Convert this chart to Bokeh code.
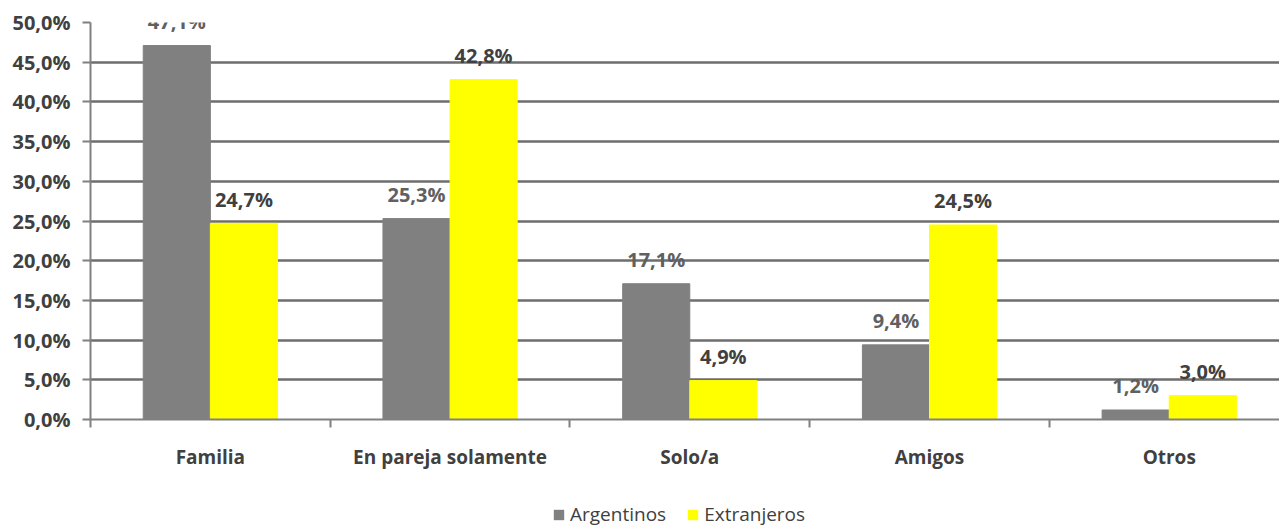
from bokeh.plotting import figure
from bokeh.layouts import column
from bokeh.models import ColumnDataSource, Range1d, FixedTicker, LabelSet, Legend, LegendItem
from bokeh.core.properties import value
from bokeh.embed import file_html
from bokeh.resources import INLINE

categories = ["Familia", "En pareja solamente", "Solo/a", "Amigos", "Otros"]
argentinos = [47.1, 25.3, 17.1, 9.4, 1.2]
extranjeros = [24.7, 42.8, 4.9, 24.5, 3.0]
series_names = ["Argentinos", "Extranjeros"]
y_ticks = [0, 5, 10, 15, 20, 25, 30, 35, 40, 45, 50]

FONT = value("Open Sans")
GRAY = "#808080"
YELLOW = "#FFFF00"
TEXT = "#404040"


def pct(v):
    return f"{v:.1f}%".replace(".", ",")


idx = list(range(len(categories)))
bar_w = 0.28
x_arg = [i - bar_w / 2 for i in idx]
x_ext = [i + bar_w / 2 for i in idx]

src_arg = ColumnDataSource(dict(x=x_arg, top=argentinos, t=[pct(v) for v in argentinos]))
src_ext = ColumnDataSource(dict(x=x_ext, top=extranjeros, t=[pct(v) for v in extranjeros]))

p = figure(width=1279, height=472, output_backend="svg", toolbar_location=None,
           x_range=Range1d(-0.5, 4.46), y_range=Range1d(0, 50),
           min_border_left=90, min_border_right=0, min_border_top=22, min_border_bottom=52)
p.outline_line_color = None
p.background_fill_color = "white"

r1 = p.vbar(x="x", top="top", bottom=0, width=bar_w, source=src_arg,
            fill_color=GRAY, line_color=GRAY, line_width=1)
r2 = p.vbar(x="x", top="top", bottom=0, width=bar_w, source=src_ext,
            fill_color=YELLOW, line_color=YELLOW, line_width=1)

# Y axis
p.yaxis.ticker = FixedTicker(ticks=y_ticks)
p.yaxis.major_label_overrides = {t: pct(t) for t in y_ticks}
p.yaxis.major_label_text_font = "Open Sans"
p.yaxis.major_label_text_font_style = "bold"
p.yaxis.major_label_text_font_size = "20px"
p.yaxis.major_label_text_color = TEXT
p.yaxis.axis_line_color = GRAY
p.yaxis.axis_line_width = 2
p.yaxis.major_tick_line_color = GRAY
p.yaxis.major_tick_line_width = 2
p.yaxis.major_tick_out = 8
p.yaxis.major_tick_in = 0
p.yaxis.minor_tick_line_color = None
p.yaxis.major_label_standoff = 12

# X axis: labels at category centres, ticks at boundaries
p.xaxis.ticker = FixedTicker(ticks=idx, minor_ticks=[i - 0.5 for i in idx] + [len(idx) - 0.5])
p.xaxis.major_label_overrides = {i: c for i, c in enumerate(categories)}
p.xaxis.major_label_text_font = "Open Sans"
p.xaxis.major_label_text_font_style = "bold"
p.xaxis.major_label_text_font_size = "19px"
p.xaxis.major_label_text_color = TEXT
p.xaxis.major_tick_line_color = None
p.xaxis.major_tick_out = 0
p.xaxis.major_tick_in = 0
p.xaxis.minor_tick_line_color = GRAY
p.xaxis.minor_tick_line_width = 2
p.xaxis.minor_tick_out = 8
p.xaxis.minor_tick_in = 0
p.xaxis.axis_line_color = GRAY
p.xaxis.axis_line_width = 2
p.xaxis.major_label_standoff = 16

p.xgrid.grid_line_color = None
p.ygrid.grid_line_color = "#6e6e6e"
p.ygrid.grid_line_width = 2.5

lab1 = LabelSet(x="x", y="top", text="t", source=src_arg, text_align="center",
                text_baseline="middle", y_offset=24, text_font=FONT,
                text_font_style="bold", text_font_size="20px", text_color="#606060")
lab2 = LabelSet(x="x", y="top", text="t", source=src_ext, text_align="center",
                text_baseline="middle", y_offset=24, text_font=FONT,
                text_font_style="bold", text_font_size="20px", text_color=TEXT)
p.add_layout(lab1)
p.add_layout(lab2)

# Legend strip underneath (its bars lie outside its y-range, so only the legend shows)
q = figure(width=1279, height=56, output_backend="svg", toolbar_location=None,
           x_range=Range1d(-0.5, 4.46), y_range=Range1d(1000, 1001),
           min_border_left=90, min_border_right=0, min_border_top=0, min_border_bottom=0)
q.axis.visible = False
q.grid.visible = False
q.outline_line_color = None
d1 = q.vbar(x="x", top="top", bottom=0, width=bar_w, source=src_arg,
            fill_color=GRAY, line_color=None)
d2 = q.vbar(x="x", top="top", bottom=0, width=bar_w, source=src_ext,
            fill_color=YELLOW, line_color=None)
legend = Legend(items=[LegendItem(label=series_names[0], renderers=[d1]),
                       LegendItem(label=series_names[1], renderers=[d2])],
                location=(462, 1), orientation="horizontal",
                glyph_width=13, glyph_height=13, label_standoff=5, spacing=20,
                padding=0, margin=0, border_line_color=None, background_fill_alpha=0,
                label_text_font="Open Sans", label_text_font_size="19px", label_text_color=TEXT)
q.add_layout(legend, "center")

layout = column(p, q, spacing=0)
open("out.html", "w").write(file_html(layout, INLINE))
